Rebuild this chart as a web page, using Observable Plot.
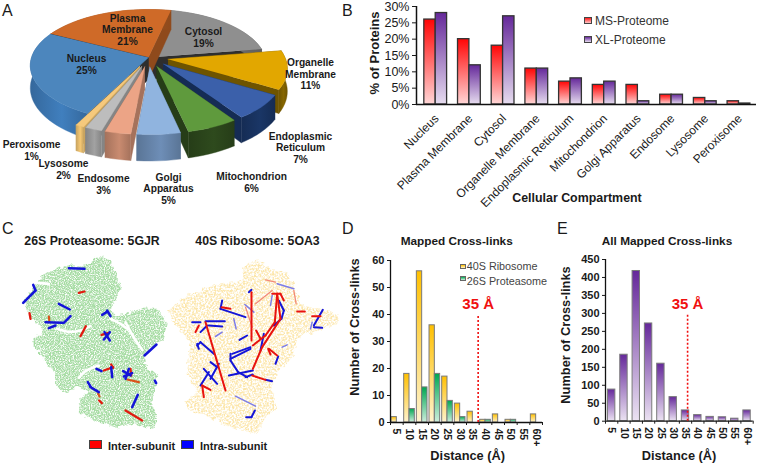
<!DOCTYPE html>
<html><head><meta charset="utf-8">
<script src="https://cdn.jsdelivr.net/npm/d3@7"></script>
<script src="https://cdn.jsdelivr.net/npm/@observablehq/plot@0.6"></script>
<style>
html,body{margin:0;padding:0;background:#fff}
#fig{position:relative;width:757px;height:464px;overflow:hidden;font-family:"Liberation Sans",Arial,sans-serif;color:#1a1a1a}
#fig svg{position:absolute;background:transparent;overflow:visible;font-family:"Liberation Sans",Arial,sans-serif}
.t{position:absolute;white-space:nowrap}
.sw{position:absolute}
</style></head><body><div id="fig"></div>
<script>
// ---------- data ----------
const compartments=["Nucleus","Plasma Membrane","Cytosol","Organelle Membrane","Endoplasmic Reticulum","Mitochondrion","Golgi Apparatus","Endosome","Lysosome","Peroxisome"];
const piePct=[25,21,19,11,7,6,5,3,2,1];
const pieLabels=["Nucleus\n25%","Plasma\nMembrane\n21%","Cytosol\n19%","Organelle\nMembrane\n11%","Endoplasmic\nReticulum\n7%","Mitochondrion\n6%","Golgi\nApparatus\n5%","Endosome\n3%","Lysosome\n2%","Peroxisome\n1%"];
const pieLabelX=[86,127,203,310,300,251,168,103,63,31];
const pieLabelY=[63.5,29,36.5,73.5,147,181.5,188,184,169,150];
const pieTop=["#4c86bd","#cf6a28","#8f8f8f","#e2a700","#3b60aa","#5f9a3d","#90b4df","#eca486","#bdbdbd","#f6c97c"];
const pieWall=["#35689c","#8f4a1c","#5e5e5e","#6e5400","#152c54","#263d18","#5a7596","#a5725c","#858585","#c9a45f"];
const pieExplode=[0,0,0,.17,.17,.17,.17,.17,.17,.17];

const msProteome=[26,20,18,11,7,6,6,3,2,1];
const xlProteome=[28,12,27,11,8,7,1,3,1,.3];

const distanceBins=["5","10","15","20","25","30","35","40","45","50","55","60+"];
const ribosome40S=[2,18,56,36,17,7,4,1,3,1,0,3];
const proteasome26S=[0,5,13,18,8,2,0,1,0,1,0,0];
const allMapped=[88,185,418,272,160,67,30,17,12,11,7,30];

// panel C: outlines and cross-links (image units of each structure panel)
const proteasomeOutline=[[268,17],[300,30],[315,70],[330,115],[315,150],[300,175],[315,195],[350,190],[390,175],[440,175],[468,215],[460,270],[420,290],[400,315],[405,345],[440,375],[435,415],[420,440],[440,505],[430,535],[370,520],[320,530],[260,515],[205,485],[210,445],[235,425],[200,405],[190,420],[160,425],[130,395],[135,365],[105,335],[65,275],[100,240],[60,195],[40,155],[75,105],[100,70],[170,45],[225,45]];
const proteasomeGaps=[[[140,235],[175,244],[210,240],[240,226]],[[300,205],[330,220],[350,235]],[[205,382],[225,362],[265,345]],[[345,215],[368,258],[395,298]],[[80,97],[115,100]]];
const proteasomeIntra=[[175,53,222,55],[38,157,75,120],[75,120,68,103],[145,160,178,177],[105,215,155,217],[160,217,180,197],[115,233,135,225],[275,193,288,185],[290,180,300,197],[282,245,298,270],[280,267,298,245],[402,315,438,282],[258,355,273,362],[302,350,305,380],[338,362,360,375],[340,378,365,368],[345,385,355,355],[433,390,437,398],[232,395,240,408],[240,410,265,425],[365,470,382,433]];
const proteasomeInter=[[57,188,60,205],[205,127,222,123],[210,257,226,227],[273,253,295,247],[280,360,308,350],[302,342,308,352],[360,355,362,375],[266,450,274,458],[345,480,395,510]];
const proteasomeOrange=[[115,198,117,215],[350,387,385,395],[263,430,267,438]];

const ribosomeOutline=[[230,50],[275,30],[315,55],[365,65],[390,115],[410,165],[465,175],[520,195],[515,220],[455,240],[395,260],[385,315],[335,365],[315,415],[335,475],[295,505],[275,550],[205,535],[145,505],[65,475],[60,455],[95,425],[65,365],[75,275],[25,215],[10,180],[65,135],[145,105],[235,90]];
const ribosomeInter=[[120,215,180,420],[100,225,90,245],[258,125,258,270],[262,285,300,255],[262,355,290,290],[290,290,345,205],[345,205,335,130],[320,130,345,130],[345,130,355,150],[335,130,328,215],[328,215,300,255],[272,240,285,265],[310,295,335,315],[308,295,315,312],[110,405,115,440],[110,405,135,418],[260,375,300,388],[168,170,195,175],[440,197,465,197],[395,183,418,183]];
const ribosomeIntra=[[80,215,105,215],[120,212,178,212],[130,225,170,228],[105,245,125,225],[95,285,105,275],[105,275,145,310],[95,280,100,295],[115,355,155,400],[135,335,155,350],[105,405,130,365],[160,340,135,385],[200,310,255,290],[195,325,255,295],[195,310,195,330],[195,330,218,365],[190,375,262,360],[218,365,245,380],[240,380,262,372],[300,388,320,392],[222,268,245,255],[170,150,165,175],[165,175,240,200],[250,125,258,118],[285,300,295,250],[330,340,338,318],[340,150,355,180],[355,180,348,205],[348,205,325,225],[445,230,470,232],[445,225,472,178],[242,500,258,500],[258,500,268,480]];
const ribosomeFaint=[[205,205,212,235],[350,290,365,283],[435,235,440,215],[210,437,270,467],[335,100,385,115],[320,135,315,165],[150,258,170,245],[238,162,265,185]];
const ribosomePink=[[300,88,330,95],[240,170,260,230],[270,160,320,120],[385,120,392,160]];

const FONT="Liberation Sans";
const INK="#1a1a1a";
const fig=document.getElementById("fig");

// ---------- helpers ----------
function place(svg,left,top){svg.style.left=left+"px";svg.style.top=top+"px";fig.appendChild(svg);return svg;}
function defs(markup){return ()=>{const d=document.createElementNS("http://www.w3.org/2000/svg","defs");d.innerHTML=markup;return d;};}
function grad(id,top,bottom){return `<linearGradient id="${id}" x1="0" y1="0" x2="0" y2="1"><stop offset="0" stop-color="${top}"/><stop offset="1" stop-color="${bottom}"/></linearGradient>`;}
function label(text,x,y,opt={}){const e=document.createElement("div");e.className="t";e.textContent=text;
  e.style.left=x+"px";e.style.top=y+"px";e.style.fontSize=(opt.size||12)+"px";e.style.fontWeight=opt.weight||"normal";e.style.lineHeight="1";
  e.style.color=opt.color||INK;e.style.transform=`translate(${opt.ax??0}%,-50%)`;fig.appendChild(e);return e;}
function swatch(x,y,w,h,bg,border){const e=document.createElement("div");e.className="sw";e.style.cssText+=`left:${x}px;top:${y}px;width:${w}px;height:${h}px;background:${bg};border:1px solid ${border};box-sizing:border-box`;fig.appendChild(e);}
const px=(w,h)=>({width:w,height:h,margin:0,x:{domain:[0,w],range:[0,w],axis:null},y:{domain:[0,h],range:[0,h],axis:null}});

// ---------- panel A : pie built from piePct ----------
(function(){
  const cx=148,cy=57,A=117,B=54.9,k=.143,depth=22,start=117;
  const proj=(X,Y,z=0)=>{const w=1-k*Y;return {x:cx+A*X/w,y:cy+B*Y/w+z*depth/w};};
  let a=start;
  const slices=piePct.map((v,i)=>{const t0=a,t1=a+v*3.6;a=t1;const m=(t0+t1)/2*Math.PI/180;
    return {i,t0,t1,ex:pieExplode[i]*Math.cos(m),ey:pieExplode[i]*Math.sin(m),my:Math.sin(m)};});
  const order=[2,1,0,3,4,9,8,7,5,6];
  const marks=[];
  const gradDefs=pieWall.map((c,i)=>{const l=d3.color(c).brighter(.55);return `<linearGradient id="pw${i}" x1="0" y1="0" x2="1" y2="0"><stop offset="0" stop-color="${c}"/><stop offset=".55" stop-color="${l}"/><stop offset="1" stop-color="${c}"/></linearGradient>`;}).join("");
  marks.push(defs(gradDefs));
  const poly=(pts,fill)=>Plot.line(pts,{x:"x",y:"y",fill,stroke:fill,strokeWidth:.4});
  order.forEach(j=>{const s=slices[j];
    const arc=[];const n=Math.max(4,Math.round((s.t1-s.t0)/3));
    for(let q=0;q<=n;q++){const t=(s.t0+(s.t1-s.t0)*q/n)*Math.PI/180;arc.push([s.ex+Math.cos(t),s.ey+Math.sin(t)]);}
    const ap=[s.ex,s.ey];
    const top=z=>[proj(ap[0],ap[1],z),...arc.map(p=>proj(p[0],p[1],z))];
    const edge=(p,c)=>poly([proj(ap[0],ap[1],0),proj(p[0],p[1],0),proj(p[0],p[1],1),proj(ap[0],ap[1],1)],c);
    const cutColor=(j===2||j===0)?"#2e2e2e":pieWall[j];
    marks.push(edge(arc[0],cutColor),edge(arc[arc.length-1],cutColor));
    marks.push(poly([...arc.map(p=>proj(p[0],p[1],0)),...arc.slice().reverse().map(p=>proj(p[0],p[1],1))],`url(#pw${j})`));
    marks.push(poly(top(0),pieTop[j]));
  });
  const d=pieLabels.map((t,i)=>({t,x:pieLabelX[i],y:pieLabelY[i]}));
  marks.push(Plot.text(d,{x:"x",y:"y",text:"t",fontSize:10.2,fontWeight:"bold",fill:INK,lineHeight:1.14,textAnchor:"middle",fontFamily:FONT}));
  place(Plot.plot({...px(340,215),marks}),0,0);
})();

// ---------- panel B ----------
(function(){
  const rows=compartments.map((c,i)=>({c,i,ms:msProteome[i],xl:xlProteome[i]}));
  const w=.338;
  const svg=Plot.plot({width:417,height:215,marginLeft:76,marginRight:1,marginTop:6,marginBottom:111,
    x:{domain:[-.07,10.02],axis:null},
    y:{domain:[0,30],axis:null},
    marks:[
      defs(grad("gMS","#ff0505","#ffd6d6")+grad("gXL","#65289a","#e6dcef")),
      Plot.rect(rows,{x1:d=>d.i+.5-w,x2:d=>d.i+.5,y1:0,y2:"ms",fill:"url(#gMS)",stroke:"#333",strokeWidth:1.3}),
      Plot.rect(rows,{x1:d=>d.i+.5,x2:d=>d.i+.5+w,y1:0,y2:"xl",fill:"url(#gXL)",stroke:"#333",strokeWidth:1.3}),
      Plot.ruleX([-.07],{stroke:"#111",strokeWidth:1.5}),
      Plot.ruleY([0],{stroke:"#111",strokeWidth:1.5}),
      Plot.axisY({ticks:[0,5,10,15,20,25,30],tickFormat:d=>d+"%",tickSize:4,tickPadding:3,label:null,fontSize:12.5,anchor:"left",fontFamily:FONT,color:INK}),
      Plot.text(rows,{x:d=>d.i+.5,y:0,text:"c",rotate:-45,textAnchor:"end",dx:1,dy:12,fontSize:12,fill:INK,fontFamily:FONT})
    ]});
  place(svg,340,0);
  label("% of Proteins",374,53,{size:13,weight:"bold",ax:-50}).style.transform="translate(-50%,-50%) rotate(-90deg)";
  label("Cellular Compartment",577,198,{size:12.4,weight:"bold",ax:-50});
  swatch(584,17,8,7,"linear-gradient(#ff1a1a,#ffc8c8)","#444");
  swatch(584,36,8,7,"linear-gradient(#65289a,#e6dcef)","#444");
  label("MS-Proteome",595,21,{size:12,color:"#333"});
  label("XL-Proteome",595,40,{size:12,color:"#333"});
})();

// ---------- panel C ----------
const texture=(id,freq,gain,bias)=>`<filter id="${id}" x="-5%" y="-5%" width="110%" height="110%" color-interpolation-filters="sRGB">
<feTurbulence type="fractalNoise" baseFrequency="0.22" numOctaves="2" seed="4" result="n"/>
<feDisplacementMap in="SourceGraphic" in2="n" scale="7" xChannelSelector="R" yChannelSelector="G" result="d"/>
<feTurbulence type="fractalNoise" baseFrequency="${freq}" numOctaves="2" seed="9" result="m"/>
<feColorMatrix in="m" type="matrix" values="0 0 0 0 1 0 0 0 0 1 0 0 0 0 1 ${gain} 0 0 0 ${bias}" result="s"/>
<feComposite in="s" in2="d" operator="in" result="c"/>
<feMerge result="r"><feMergeNode in="d"/><feMergeNode in="c"/></feMerge>
<feGaussianBlur in="r" stdDeviation="0.35"/></filter>`;
function links(arr,color,width,opacity=1){return Plot.link(arr,{x1:d=>d[0],y1:d=>d[1],x2:d=>d[2],y2:d=>d[3],stroke:color,strokeWidth:width,strokeOpacity:opacity,strokeLinecap:"round"});}
function toPts(a){return a.map(p=>({x:p[0],y:p[1]}));}
(function(){
  place(Plot.plot({width:160,height:190,margin:0,
    x:{domain:[0,480],range:[0,160],axis:null},y:{domain:[0,570],range:[0,190],axis:null},
    marks:[defs(texture("texG",0.8,3,-1.2)),
      Plot.line(toPts(proteasomeOutline),{x:"x",y:"y",fill:"#a6dca3",stroke:"none",imageFilter:"url(#texG)"}),
      ...proteasomeGaps.map(g=>Plot.line(toPts(g),{x:"x",y:"y",stroke:"#fff",strokeWidth:2.6,curve:"catmull-rom"})),
      links(proteasomeOrange,"#d9521a",2.2),
      links(proteasomeInter,"#e01b10",2.3),
      links(proteasomeIntra,"#1414d8",2.5)
    ]}),10,250);
  place(Plot.plot({width:180,height:190,margin:0,
    x:{domain:[0,540],range:[0,180],axis:null},y:{domain:[0,570],range:[0,190],axis:null},
    marks:[defs(texture("texY",0.55,3.2,-1.05)),
      Plot.line(toPts(ribosomeOutline),{x:"x",y:"y",fill:"#fce6aa",stroke:"none",imageFilter:"url(#texY)"}),
      links(ribosomePink,"#f28a78",1.3),
      links(ribosomeFaint,"#7c7ce8",1.5),
      links(ribosomeIntra,"#1515d8",2),
      links(ribosomeInter,"#e8130f",2)
    ]}),165,250);
  label("26S Proteasome: 5GJR",92,241,{size:12.3,weight:"bold",ax:-50});
  label("40S Ribosome: 5OA3",257.5,241,{size:12.3,weight:"bold",ax:-50});
  swatch(89,440,13,9,"#ff0000","#444");
  swatch(181,440,13,9,"#0000ff","#444");
  label("Inter-subunit",108,446,{size:11,weight:"bold"});
  label("Intra-subunit",200,446,{size:11,weight:"bold"});
})();

// ---------- panel D ----------
(function(){
  const rows=distanceBins.map((b,i)=>({b,i,r:ribosome40S[i],p:proteasome26S[i]}));
  const w=.42;
  place(Plot.plot({width:210,height:239,marginLeft:50,marginRight:8,marginTop:35,marginBottom:42,
    x:{domain:[0,12],axis:null},y:{domain:[0,60],axis:null},
    marks:[
      defs(grad("gY","#ffc000","#fff3cf")+grad("gG","#00a651","#cdeedd")),
      Plot.rect(rows.filter(d=>d.r>0),{x1:d=>d.i+.5-w,x2:d=>d.i+.5,y1:0,y2:"r",fill:"url(#gY)",stroke:"#7a7a7a",strokeWidth:1}),
      Plot.rect(rows.filter(d=>d.p>0),{x1:d=>d.i+.5,x2:d=>d.i+.5+w,y1:0,y2:"p",fill:"url(#gG)",stroke:"#7a7a7a",strokeWidth:1}),
      Plot.ruleX([0],{stroke:"#111",strokeWidth:1.3}),
      Plot.ruleY([0],{stroke:"#111",strokeWidth:1.3}),
      Plot.axisY({ticks:d3.range(0,61,10),tickSize:3,tickPadding:3,label:null,fontSize:11,fontWeight:"bold",anchor:"left",fontFamily:FONT,color:INK}),
      Plot.axisX({ticks:d3.range(0,13),tickSize:3,tickFormat:()=>null,label:null,anchor:"bottom",color:INK}),
      Plot.text(rows,{x:d=>d.i+.5,y:0,text:"b",rotate:90,textAnchor:"start",dy:6,fontSize:10.5,fontWeight:"bold",fill:INK,fontFamily:FONT}),
      Plot.ruleX([6.92],{y1:0,y2:39.6,stroke:"#f01010",strokeWidth:1.6,strokeDasharray:"2 2"}),
      Plot.text(["35 Å"],{x:6.92,y:39.6,dy:-11,fontSize:15,fontWeight:"bold",fill:"#f01010",fontFamily:FONT})
    ]}),340,225);
  label("Mapped Cross-links",456.7,241.7,{size:11.8,weight:"bold",ax:-50});
  label("Number of Cross-links",355,327,{size:12.8,weight:"bold",ax:-50}).style.transform="translate(-50%,-50%) rotate(-90deg)";
  label("Distance (Å)",467.7,456,{size:12.8,weight:"bold",ax:-50});
  swatch(460,263.5,5.5,5.5,"linear-gradient(#ffc000,#fff3cf)","#666");
  swatch(460,275.5,5.5,5.5,"linear-gradient(#00a651,#cdeedd)","#666");
  label("40S Ribosome",466.7,266,{size:10.8,color:"#444"});
  label("26S Proteasome",466.7,280.7,{size:10.8,color:"#444"});
})();

// ---------- panel E ----------
(function(){
  const rows=distanceBins.map((b,i)=>({b,i,v:allMapped[i]}));
  const w=.3;
  place(Plot.plot({width:204,height:239,marginLeft:52,marginRight:4.3,marginTop:34,marginBottom:43.3,
    x:{domain:[0,12],axis:null},y:{domain:[0,450],axis:null},
    marks:[
      defs(grad("gP","#65289a","#ebe2f2")),
      Plot.rect(rows,{x1:d=>d.i+.5-w,x2:d=>d.i+.5+w,y1:0,y2:"v",fill:"url(#gP)",stroke:"#7a7a7a",strokeWidth:1}),
      Plot.ruleX([0],{stroke:"#111",strokeWidth:1.3}),
      Plot.ruleY([0],{stroke:"#111",strokeWidth:1.3}),
      Plot.axisY({ticks:d3.range(0,451,50),tickSize:3,tickPadding:3,label:null,fontSize:11,fontWeight:"bold",anchor:"left",fontFamily:FONT,color:INK}),
      Plot.axisX({ticks:d3.range(0,13),tickSize:3,tickFormat:()=>null,label:null,anchor:"bottom",color:INK}),
      Plot.text(rows,{x:d=>d.i+.5,y:0,text:"b",rotate:90,textAnchor:"start",dy:6,fontSize:10.5,fontWeight:"bold",fill:INK,fontFamily:FONT}),
      Plot.ruleX([6.67],{y1:0,y2:295,stroke:"#f01010",strokeWidth:1.6,strokeDasharray:"2 2"}),
      Plot.text(["35 Å"],{x:6.67,y:295,dy:-11,fontSize:15,fontWeight:"bold",fill:"#f01010",fontFamily:FONT})
    ]}),553,225);
  label("All Mapped Cross-links",667,241.7,{size:11.8,weight:"bold",ax:-50});
  label("Number of Cross-links",566,335,{size:12.8,weight:"bold",ax:-50}).style.transform="translate(-50%,-50%) rotate(-90deg)";
  label("Distance (Å)",679,456,{size:12.8,weight:"bold",ax:-50});
})();

// ---------- panel letters ----------
[["A",2,11],["B",342,11],["C",2,229],["D",342,229],["E",557,229]].forEach(([t,x,y])=>label(t,x,y,{size:16}));
</script></body></html>
